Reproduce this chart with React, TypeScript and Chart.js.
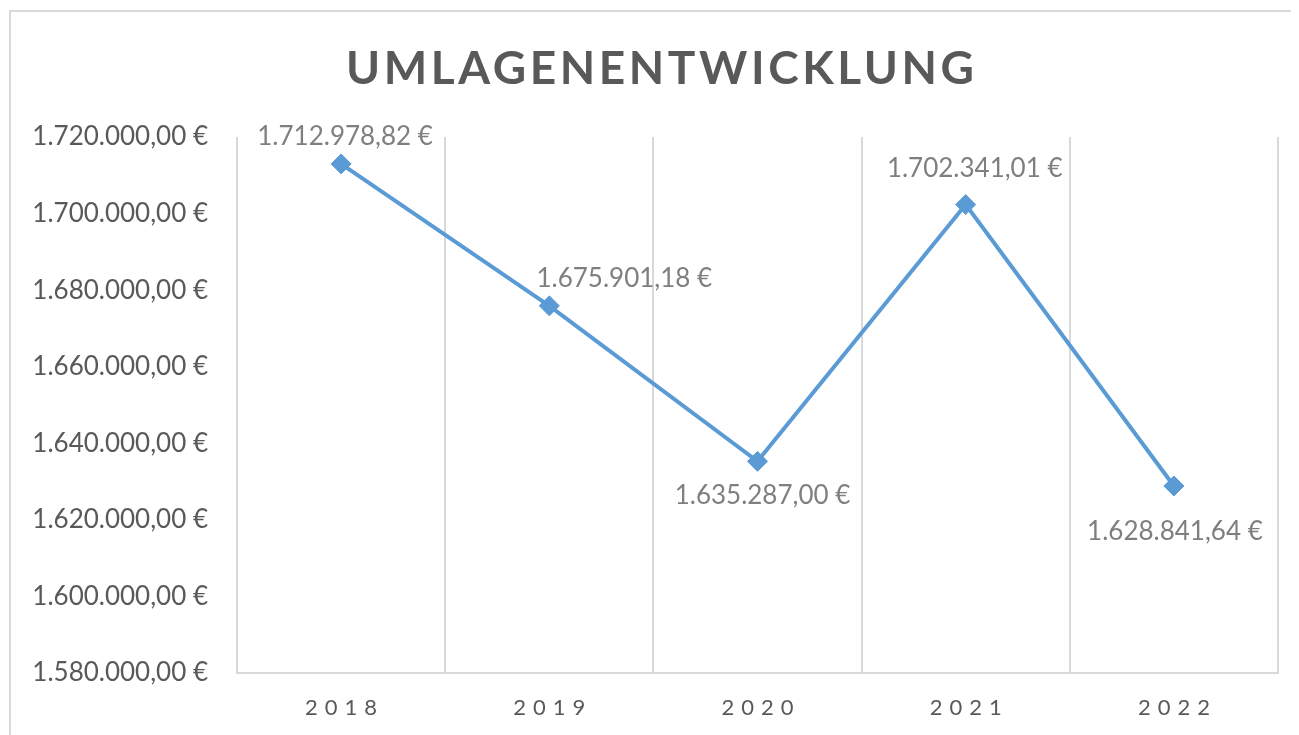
import React, { useEffect, useRef } from "react";
import { Chart, registerables } from "chart.js";

Chart.register(...registerables);

const TITLE = "UMLAGENENTWICKLUNG";
const categories = ["2018", "2019", "2020", "2021", "2022"];
const values = [1712978.82, 1675901.18, 1635287.0, 1702341.01, 1628841.64];
const yMin = 1580000;
const yMax = 1720000;
const yStep = 20000;
// data label placement relative to point (px)
const labelOffsets: [number, number][] = [
  [4, -27],
  [75, -27],
  [5, 34],
  [9, -36],
  [1, 46],
];

const FONT = "Lato, 'Open Sans', sans-serif";
const AXIS_COLOR = "#595959";
const LABEL_COLOR = "#7f7f7f";
const LINE_COLOR = "#5b9bd5";
const GRID_COLOR = "#d9d9d9";

const fmtEuro = (v: number) =>
  v.toLocaleString("de-DE", { minimumFractionDigits: 2, maximumFractionDigits: 2 }) + " €";

const W = 1291;
const H = 727;

const overlayPlugin = {
  id: "overlay",
  afterDraw(chart: any) {
    const ctx = chart.ctx as CanvasRenderingContext2D;
    ctx.save();
    // Title with letter spacing
    ctx.font = `bold 46px ${FONT}`;
    ctx.fillStyle = AXIS_COLOR;
    ctx.textBaseline = "middle";
    ctx.textAlign = "left";
    (ctx as any).letterSpacing = "0px";
    const w0 = ctx.measureText(TITLE).width;
    const target = 628;
    const ls = (target - w0) / (TITLE.length - 1);
    (ctx as any).letterSpacing = `${ls}px`;
    ctx.fillText(TITLE, 652 - target / 2, 61);

    // X tick labels with letter spacing
    const xs = chart.scales.x;
    ctx.font = `22px ${FONT}`;
    (ctx as any).letterSpacing = "7px";
    categories.forEach((c, i) => {
      const x = xs.getPixelForValue(i);
      const w = ctx.measureText(c).width - 7;
      ctx.fillText(c, x - w / 2, 700);
    });

    // Data labels
    (ctx as any).letterSpacing = "0px";
    ctx.font = `26px ${FONT}`;
    ctx.fillStyle = LABEL_COLOR;
    ctx.textAlign = "center";
    const meta = chart.getDatasetMeta(0);
    meta.data.forEach((pt: any, i: number) => {
      const [dx, dy] = labelOffsets[i];
      ctx.fillText(fmtEuro(values[i]), pt.x + dx, pt.y + dy);
    });
    ctx.restore();
  },
};

export default function App() {
  const ref = useRef<HTMLCanvasElement | null>(null);

  useEffect(() => {
    if (!ref.current) return;
    const chart = new Chart(ref.current, {
      type: "line",
      data: {
        labels: categories,
        datasets: [
          {
            data: values,
            borderColor: LINE_COLOR,
            backgroundColor: LINE_COLOR,
            borderWidth: 4,
            pointStyle: "rectRot",
            pointRadius: 10,
            pointBorderWidth: 1,
            pointBackgroundColor: LINE_COLOR,
            pointBorderColor: LINE_COLOR,
            tension: 0,
          },
        ],
      },
      options: {
        responsive: false,
        animation: false,
        layout: { padding: { top: 129, right: 21, left: 0, bottom: 0 } },
        plugins: {
          legend: { display: false },
          title: { display: false },
          tooltip: { enabled: false },
        },
        scales: {
          x: {
            type: "category",
            offset: true,
            grid: {
              display: true,
              offset: true,
              color: GRID_COLOR,
              lineWidth: 2,
              drawTicks: false,
            },
            border: { display: true, color: GRID_COLOR, width: 2 },
            ticks: { display: false },
            afterFit(scale: any) {
              scale.height = 62;
            },
          },
          y: {
            min: yMin,
            max: yMax,
            grid: { display: false, drawTicks: false },
            border: { display: false },
            ticks: {
              stepSize: yStep,
              padding: 29,
              color: AXIS_COLOR,
              font: { family: FONT, size: 26 },
              callback: (v: any) => fmtEuro(Number(v)),
            },
            afterFit(scale: any) {
              scale.width = 229;
            },
          },
        },
      },
      plugins: [overlayPlugin],
    });
    return () => chart.destroy();
  }, []);

  return (
    <div style={{ position: "relative", width: W, height: H, overflow: "hidden", background: "#fff" }}>
      <div
        style={{
          position: "absolute",
          left: 1,
          top: 2,
          width: 1400,
          height: 900,
          border: `2px solid ${GRID_COLOR}`,
          boxSizing: "border-box",
        }}
      />
      <canvas
        ref={ref}
        width={W}
        height={H}
        style={{ position: "absolute", left: 0, top: 0, width: W, height: H }}
      />
    </div>
  );
}
